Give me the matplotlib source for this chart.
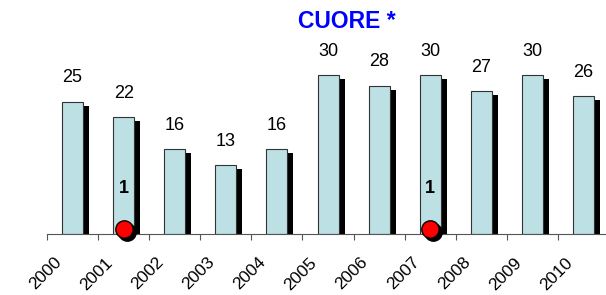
"""Recreate the CUORE * yearly bar chart with shadowed bars and event markers."""

import matplotlib

matplotlib.use("Agg")
import matplotlib.pyplot as plt
import matplotlib.transforms as mtransforms

YEARS = ["2000", "2001", "2002", "2003", "2004", "2005",
         "2006", "2007", "2008", "2009", "2010"]
COUNTS = [25, 22, 16, 13, 16, 30, 28, 30, 27, 30, 26]
EVENT_YEARS = ["2001", "2007"]
EVENT_COUNTS = [1, 1]

TITLE = "CUORE *"
BAR_COLOR = "#BCE0E4"
BAR_WIDTH = 0.41
FONT = ["Liberation Sans", "DejaVu Sans"]

plt.rcParams["font.family"] = FONT

fig = plt.figure(figsize=(6.06, 2.95), dpi=100)
ax = fig.add_axes([47 / 606, 61 / 295, 1 - 47 / 606, 169.6 / 295])

centers = [i + 0.5 for i in range(len(YEARS))]
px_x = 51.1  # pixels per category
px_y = 5.3   # pixels per unit

# shadow bars: offset right and down
shadow_dx = 6 / px_x
shadow_dy = 4 / px_y
ax.bar([c + shadow_dx for c in centers], [v - shadow_dy for v in COUNTS],
       width=BAR_WIDTH, color="black", zorder=1)
ax.bar(centers, COUNTS, width=BAR_WIDTH, color=BAR_COLOR,
       edgecolor="#333333", linewidth=0.8, zorder=2)

for c, v in zip(centers, COUNTS):
    ax.annotate(str(v), (c, v), xytext=(0, 17), textcoords="offset points",
                ha="center", va="center", fontsize=13, color="black")

event_x = [centers[YEARS.index(y)] for y in EVENT_YEARS]
shadow_tr = ax.transData + mtransforms.ScaledTranslation(3 / 100, -3 / 100, fig.dpi_scale_trans)
ax.plot(event_x, EVENT_COUNTS, "o", color="black", markersize=12.5,
        transform=shadow_tr, zorder=3, clip_on=False)
ax.plot(event_x, EVENT_COUNTS, "o", color="red", markeredgecolor="black",
        markeredgewidth=1.0, markersize=12.5, zorder=4, clip_on=False)
for x, v in zip(event_x, EVENT_COUNTS):
    ax.annotate(str(v), (x, v), xytext=(0, 29), textcoords="offset points",
                ha="center", va="center", fontsize=13, fontweight="bold")

ax.set_xlim(0, 10.94)
ax.set_ylim(0, 32)
ax.set_yticks([])
ax.set_xticks(range(len(YEARS)))
ax.tick_params(axis="x", direction="out", length=4.5, width=0.8, color="#555555", pad=2)
ax.set_xticklabels(YEARS, rotation=45, ha="right", va="center",
                   rotation_mode="anchor", fontsize=12.5)
# shift the rotated labels so their ends sit right of and below each tick
offset = mtransforms.ScaledTranslation(12 / 100, -17 / 100, fig.dpi_scale_trans)
for label in ax.get_xticklabels():
    label.set_transform(label.get_transform() + offset)

for side in ("left", "right", "top"):
    ax.spines[side].set_visible(False)
ax.spines["bottom"].set_color("#555555")
ax.spines["bottom"].set_linewidth(0.8)

fig.text(346.5 / 606, 1 - 21 / 295, TITLE, ha="center", va="center",
         fontsize=16.5, fontweight="bold", color="#0000FF")

fig.savefig("out.png", dpi=100)
